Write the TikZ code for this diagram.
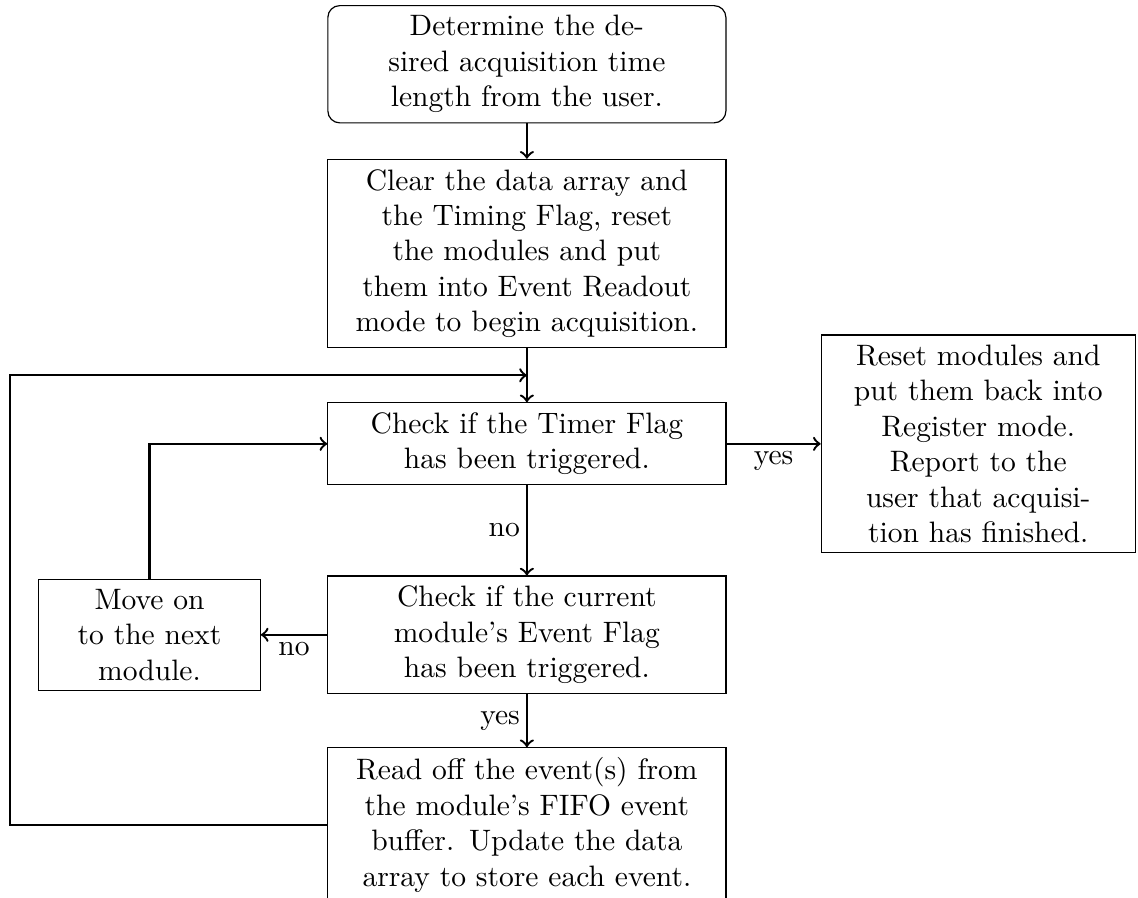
\documentclass[tikz,border=0pt]{standalone}
\usetikzlibrary{positioning,calc}

\begin{document}
\begin{tikzpicture}[
  box/.style={draw, align=center, text width=4.5cm},
  start/.style={box, rounded corners=4pt},
  side/.style={draw, align=center, text width=3.5cm},
  small/.style={draw, align=center, text width=2.4cm},
  arr/.style={->, thick},
  note/.style={inner sep=2pt}
]
\useasboundingbox (-178.3pt,1.7pt) rectangle (206.8pt,-301.9pt);

% ── main column ─────────────────────────────────────────────────────────
\node[start, anchor=north] (det) at (0,0)
  {Determine the de-\\sired acquisition time\\length from the user.};
\node[box, below=4.2mm of det] (clear)
  {Clear the data array and\\the Timing Flag, reset\\the modules and put\\them into Event Readout\\mode to begin acquisition.};
\node[box, below=6.4mm of clear] (timer)
  {Check if the Timer Flag\\has been triggered.};
\node[box, below=10.7mm of timer] (modchk)
  {Check if the current\\module's Event Flag\\has been triggered.};
\node[box, below=6.3mm of modchk] (readev)
  {Read off the event(s) from\\the module's FIFO event\\buffer. Update the data\\array to store each event.};

% ── side boxes ──────────────────────────────────────────────────────────
\node[side, right=11.2mm of timer] (reset)
  {Reset modules and\\put them back into\\Register mode.\\Report to the\\user that acquisi-\\tion has finished.};
\node[small, left=7.9mm of modchk] (nextmod)
  {Move on\\to the next\\module.};

% ── connectors ──────────────────────────────────────────────────────────
\coordinate (merge) at ($(clear.south)!0.5!(timer.north)$);
\coordinate (loop) at ($(merge)+(-175pt,0)$);
\draw[arr] (det) -- (clear);
\draw[arr] (clear) -- (timer);
\draw[arr] (timer.east) -- (timer.east -| reset.west)
  node[midway, below, note] {yes};
\draw[arr] (timer) -- (modchk)
  node[midway, left, note] {no};
\draw[arr] (modchk) -- (nextmod)
  node[midway, below, note] {no};
\draw[arr] (nextmod.north) |- (timer.west);
\draw[arr] (modchk) -- (readev)
  node[midway, left, note] {yes};
\draw[arr] (readev.west) -| (loop) -- (merge);

\end{tikzpicture}
\end{document}
